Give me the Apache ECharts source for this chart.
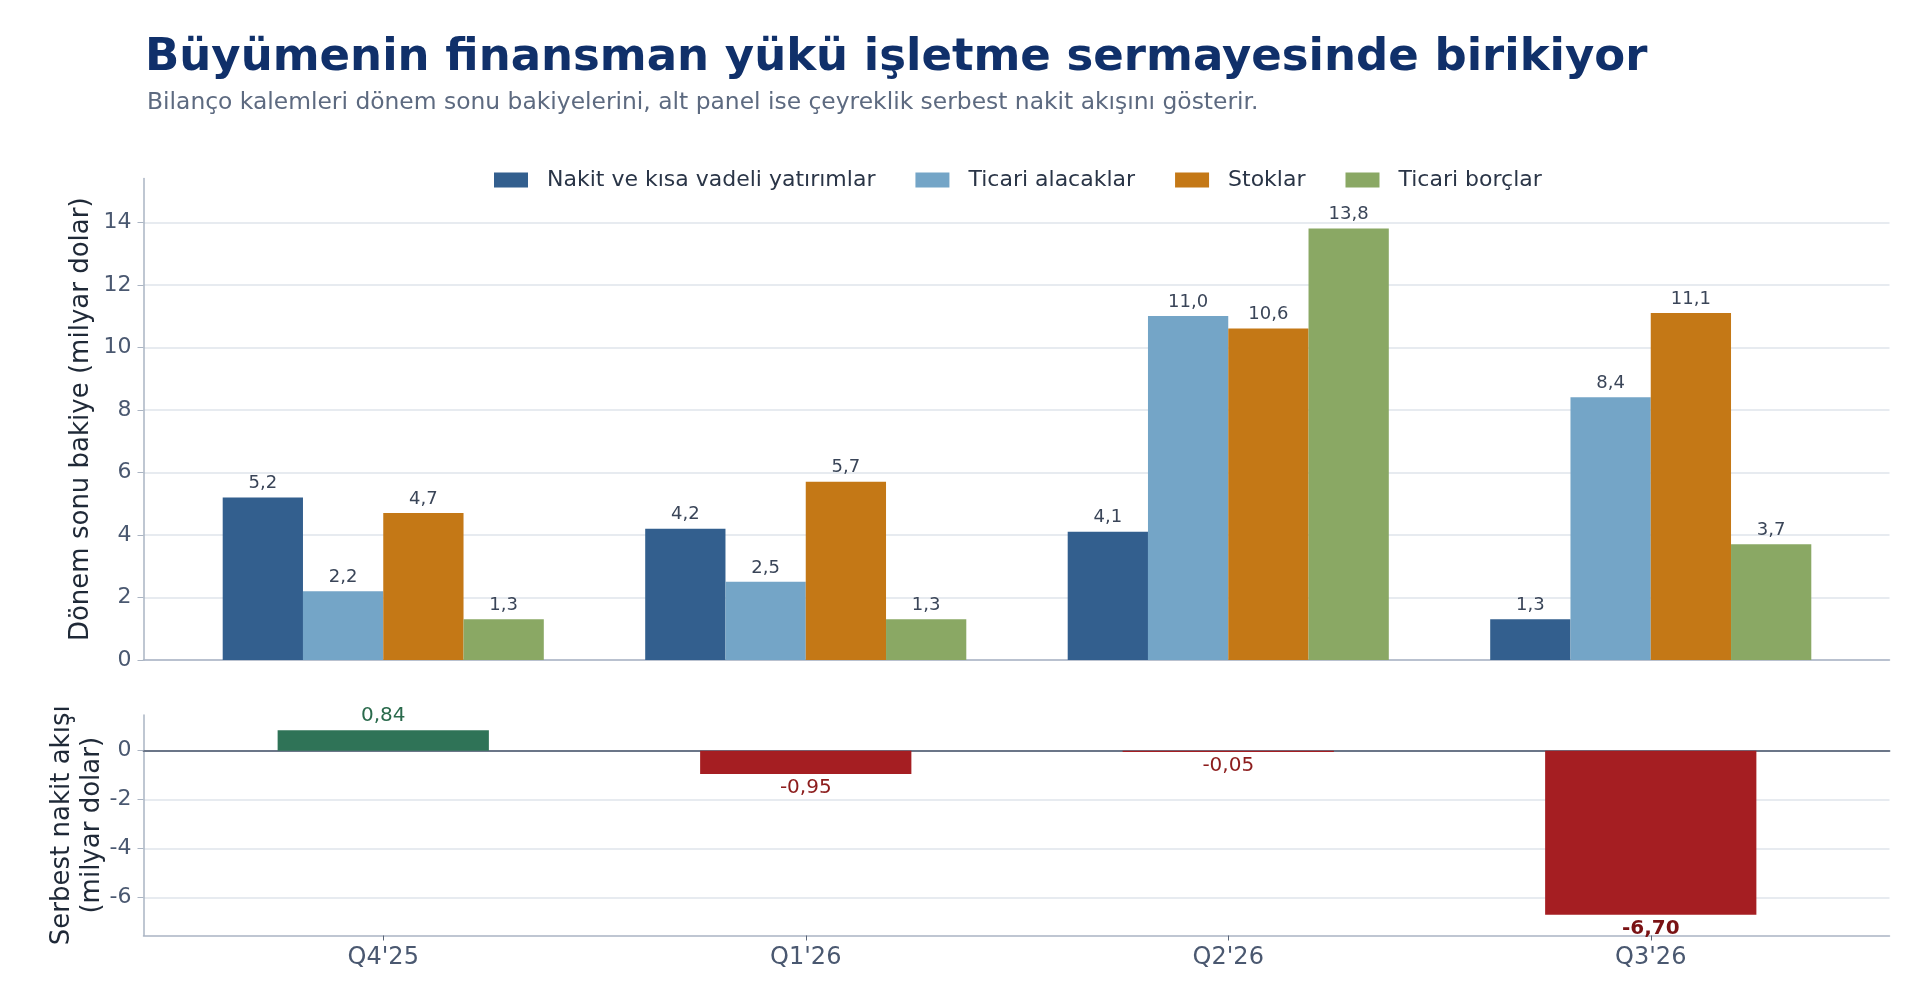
<!DOCTYPE html>
<html>
<head>
<meta charset="UTF-8">
<title>Büyümenin finansman yükü</title>
<script src="https://cdn.jsdelivr.net/npm/echarts@6/dist/echarts.min.js"></script>
<style>
  html, body { margin: 0; padding: 0; background: #fff; }
  #main { width: 1920px; height: 981px; }
</style>
</head>
<body>
<div id="main"></div>
<script>
// veriler (milyar dolar)
var quarters = ["Q4'25", "Q1'26", "Q2'26", "Q3'26"];
var seriesNames = ['Nakit ve kısa vadeli yatırımlar', 'Ticari alacaklar', 'Stoklar', 'Ticari borçlar'];
var cash        = [5.2, 4.2, 4.1, 1.3];
var receivables = [2.2, 2.5, 11.0, 8.4];
var inventory   = [4.7, 5.7, 10.6, 11.1];
var payables    = [1.3, 1.3, 13.8, 3.7];
var freeCashFlow = [0.84, -0.95, -0.05, -6.70];

var balanceData = [cash, receivables, inventory, payables];
var colors = ['#335f8e', '#74a5c7', '#c47816', '#8aa864'];

var font = 'DejaVu Sans';
var axisGray = '#aab4c3';
var gridGray = '#dfe4eb';
var tickText = '#4a5870';

var myChart = echarts.init(document.getElementById('main'));

function fmt(v, d) { return v.toFixed(d).replace('.', ','); }

// ust panel seriler
var series = balanceData.map(function (arr, i) {
  return {
    name: seriesNames[i],
    type: 'bar',
    xAxisIndex: 1,
    yAxisIndex: 1,
    barWidth: '19%',
    barGap: '0%',
    itemStyle: { color: colors[i] },
    label: {
      show: true, position: 'top', distance: 5,
      fontFamily: font, fontSize: 18, color: '#3a4558',
      formatter: function (p) { return fmt(p.value, 1); }
    },
    data: arr
  };
});

// alt panel: serbest nakit akisi
var minFcf = Math.min.apply(null, freeCashFlow);
series.push({
  name: 'Serbest nakit akışı',
  type: 'bar',
  xAxisIndex: 4,
  yAxisIndex: 3,
  barWidth: '50%',
  data: freeCashFlow.map(function (v) {
    var neg = v < 0;
    return {
      value: v,
      itemStyle: { color: neg ? '#a51e22' : '#2f7357' },
      label: {
        show: true,
        position: neg ? 'bottom' : 'top',
        distance: 4,
        fontFamily: font,
        fontSize: 20,
        fontWeight: v === minFcf ? 'bold' : 'normal',
        color: neg ? (v === minFcf ? '#7a1214' : '#8c1c1c') : '#2a6a4c',
        formatter: function (p) { return fmt(p.value, 2); }
      }
    };
  })
});

var hidden = { show: false };

option = {
  animation: false,
  backgroundColor: '#ffffff',
  title: [
    { text: 'Büyümenin finansman yükü işletme sermayesinde birikiyor', left: 140, top: 31,
      textStyle: { fontFamily: font, fontSize: 45, fontWeight: 'bold', color: '#10306a' } },
    { text: 'Bilanço kalemleri dönem sonu bakiyelerini, alt panel ise çeyreklik serbest nakit akışını gösterir.',
      left: 142, top: 86,
      textStyle: { fontFamily: font, fontSize: 23.4, fontWeight: 'normal', color: '#5d6a80' } }
  ],
  legend: {
    data: seriesNames,
    left: 489, top: 164,
    itemWidth: 34, itemHeight: 15, itemGap: 40,
    icon: 'rect',
    textStyle: { fontFamily: font, fontSize: 22, color: '#2a3547', padding: [0, 0, 0, 14] }
  },
  grid: [
    { left: 143.5, right: 30.5, top: 178.5, height: 481.5 },
    { left: 172, right: 58, top: 178.5, height: 481.5 },
    { left: 143.5, right: 30.5, top: 715, height: 220.5 },
    { left: 172, right: 58, top: 715, height: 220.5 }
  ],
  xAxis: [
    { gridIndex: 0, type: 'value', min: 0, max: 1,
      axisLine: { show: true, onZero: false, lineStyle: { color: axisGray, width: 1.5 } },
      axisTick: hidden, axisLabel: hidden, splitLine: hidden },
    { gridIndex: 1, type: 'category', data: quarters,
      axisLine: { show: false, onZero: false }, axisTick: hidden, axisLabel: hidden, splitLine: hidden },
    { gridIndex: 2, type: 'value', min: 0, max: 1, position: 'bottom',
      axisLine: { show: true, onZero: false, lineStyle: { color: axisGray, width: 1.5 } },
      axisTick: hidden, axisLabel: hidden, splitLine: hidden },
    { gridIndex: 2, type: 'value', min: 0, max: 1, position: 'top',
      axisLine: { show: true, onZero: true, lineStyle: { color: '#6b7688', width: 1.8 } },
      axisTick: hidden, axisLabel: hidden, splitLine: hidden },
    { gridIndex: 3, type: 'category', data: quarters, position: 'bottom',
      axisLine: { show: false, onZero: false },
      axisTick: { show: true, alignWithLabel: true, length: 5, lineStyle: { color: '#5a6578' } },
      axisLabel: { fontFamily: font, fontSize: 24, color: tickText, margin: 10 },
      splitLine: hidden }
  ],
  yAxis: [
    { gridIndex: 0, type: 'value', min: 0, max: 15.4, interval: 2,
      name: 'Dönem sonu bakiye (milyar dolar)', nameLocation: 'middle', nameGap: 49,
      nameMoveOverlap: false,
      nameTextStyle: { fontFamily: font, fontSize: 26, color: '#1f2937' },
      axisLine: { show: true, lineStyle: { color: axisGray, width: 1.5 } },
      axisTick: { show: true, length: 6, lineStyle: { color: axisGray } },
      axisLabel: { fontFamily: font, fontSize: 22, color: tickText, margin: 12, showMaxLabel: false },
      splitLine: { show: true, showMaxLine: false, lineStyle: { color: gridGray, width: 1.5 } } },
    { gridIndex: 1, type: 'value', min: 0, max: 15.4, show: false },
    { gridIndex: 2, type: 'value', min: -7.55, max: 1.46, splitNumber: 5, minInterval: 2, maxInterval: 2,
      name: 'Serbest nakit akışı\n(milyar dolar)', nameLocation: 'middle', nameGap: 36,
      nameMoveOverlap: false,
      nameTextStyle: { fontFamily: font, fontSize: 26, color: '#1f2937', lineHeight: 30 },
      axisLine: { show: true, lineStyle: { color: axisGray, width: 1.5 } },
      axisTick: { show: true, length: 6, lineStyle: { color: axisGray } },
      axisLabel: { fontFamily: font, fontSize: 22, color: tickText, margin: 12,
                   showMinLabel: false, showMaxLabel: false },
      splitLine: { show: true, showMinLine: false, showMaxLine: false,
                   lineStyle: { color: gridGray, width: 1.5 } } },
    { gridIndex: 3, type: 'value', min: -7.55, max: 1.46, show: false }
  ],
  series: series
};

myChart.setOption(option, true);
</script>
</body>
</html>
